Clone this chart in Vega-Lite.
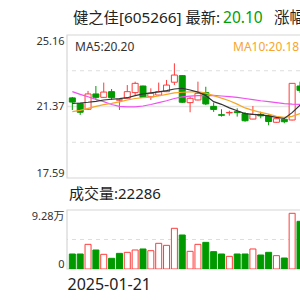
{
  "$schema": "https://vega.github.io/schema/vega-lite/v6.json",
  "width": 233,
  "height": 234,
  "autosize": "none",
  "padding": {"left": 67, "top": 35, "right": 0, "bottom": 31},
  "background": "white",
  "config": {"view": {"stroke": null}, "font": "Noto Sans, Noto Sans CJK SC", "scale": {"continuousPadding": 0}},
  "data": {"values": [
    {"i": 1, "o": 21.83, "h": 21.88, "l": 21.19, "c": 21.61, "v": 23600, "d": "down", "vd": "down", "ma5": 21.54, "ma10": 21.10, "ma20": 22.16},
    {"i": 2, "o": 21.54, "h": 21.56, "l": 20.93, "c": 21.07, "v": 23600, "d": "down", "vd": "down", "ma5": 21.56, "ma10": 21.17, "ma20": 22.02},
    {"i": 3, "o": 21.23, "h": 22.20, "l": 21.19, "c": 22.04, "v": 38800, "d": "up", "vd": "up", "ma5": 21.60, "ma10": 21.28, "ma20": 21.89},
    {"i": 4, "o": 22.04, "h": 22.46, "l": 21.72, "c": 21.86, "v": 29900, "d": "down", "vd": "down", "ma5": 21.65, "ma10": 21.38, "ma20": 21.75},
    {"i": 5, "o": 21.86, "h": 22.64, "l": 21.84, "c": 22.14, "v": 23100, "d": "up", "vd": "up", "ma5": 21.72, "ma10": 21.47, "ma20": 21.63},
    {"i": 6, "o": 22.16, "h": 22.30, "l": 21.72, "c": 21.84, "v": 16800, "d": "down", "vd": "down", "ma5": 21.76, "ma10": 21.54, "ma20": 21.48},
    {"i": 7, "o": 21.71, "h": 21.78, "l": 21.19, "c": 21.73, "v": 24600, "d": "up", "vd": "down", "ma5": 21.79, "ma10": 21.62, "ma20": 21.38},
    {"i": 8, "o": 21.81, "h": 22.51, "l": 21.80, "c": 22.16, "v": 26200, "d": "up", "vd": "up", "ma5": 21.84, "ma10": 21.72, "ma20": 21.36},
    {"i": 9, "o": 22.11, "h": 22.69, "l": 21.98, "c": 22.60, "v": 29900, "d": "up", "vd": "up", "ma5": 21.95, "ma10": 21.80, "ma20": 21.36},
    {"i": 10, "o": 22.46, "h": 22.48, "l": 21.84, "c": 21.86, "v": 31500, "d": "down", "vd": "down", "ma5": 22.04, "ma10": 21.84, "ma20": 21.40},
    {"i": 11, "o": 21.89, "h": 22.34, "l": 21.72, "c": 22.07, "v": 28800, "d": "up", "vd": "up", "ma5": 22.10, "ma10": 21.87, "ma20": 21.48},
    {"i": 12, "o": 21.98, "h": 22.64, "l": 21.96, "c": 22.16, "v": 40400, "d": "up", "vd": "up", "ma5": 22.15, "ma10": 21.93, "ma20": 21.58},
    {"i": 13, "o": 22.16, "h": 22.78, "l": 22.14, "c": 22.51, "v": 37200, "d": "up", "vd": "up", "ma5": 22.22, "ma10": 22.02, "ma20": 21.68},
    {"i": 14, "o": 22.66, "h": 23.66, "l": 22.51, "c": 23.04, "v": 64000, "d": "up", "vd": "up", "ma5": 22.30, "ma10": 22.10, "ma20": 21.80},
    {"i": 15, "o": 23.01, "h": 23.03, "l": 21.56, "c": 21.60, "v": 53500, "d": "down", "vd": "down", "ma5": 22.34, "ma10": 22.13, "ma20": 21.88},
    {"i": 16, "o": 21.58, "h": 21.89, "l": 21.07, "c": 21.81, "v": 27800, "d": "up", "vd": "up", "ma5": 22.25, "ma10": 22.15, "ma20": 21.92},
    {"i": 17, "o": 21.72, "h": 22.69, "l": 21.70, "c": 22.07, "v": 38800, "d": "up", "vd": "up", "ma5": 22.14, "ma10": 22.16, "ma20": 21.95},
    {"i": 18, "o": 22.11, "h": 22.42, "l": 21.45, "c": 21.51, "v": 41900, "d": "down", "vd": "down", "ma5": 21.95, "ma10": 22.08, "ma20": 21.95},
    {"i": 19, "o": 21.38, "h": 21.58, "l": 21.09, "c": 21.22, "v": 27300, "d": "down", "vd": "down", "ma5": 21.63, "ma10": 21.95, "ma20": 21.96},
    {"i": 20, "o": 20.94, "h": 21.23, "l": 20.84, "c": 20.91, "v": 23600, "d": "down", "vd": "down", "ma5": 21.49, "ma10": 21.82, "ma20": 21.93},
    {"i": 21, "o": 21.04, "h": 21.15, "l": 20.89, "c": 21.06, "v": 19900, "d": "up", "vd": "up", "ma5": 21.30, "ma10": 21.68, "ma20": 21.90},
    {"i": 22, "o": 21.10, "h": 21.28, "l": 20.84, "c": 21.05, "v": 23600, "d": "down", "vd": "down", "ma5": 21.15, "ma10": 21.50, "ma20": 21.86},
    {"i": 23, "o": 21.00, "h": 21.08, "l": 20.57, "c": 20.62, "v": 23600, "d": "down", "vd": "down", "ma5": 21.00, "ma10": 21.30, "ma20": 21.80},
    {"i": 24, "o": 20.71, "h": 21.40, "l": 20.70, "c": 20.96, "v": 31500, "d": "up", "vd": "up", "ma5": 20.96, "ma10": 21.17, "ma20": 21.74},
    {"i": 25, "o": 20.96, "h": 21.10, "l": 20.75, "c": 20.88, "v": 22000, "d": "down", "vd": "down", "ma5": 20.93, "ma10": 21.06, "ma20": 21.68},
    {"i": 26, "o": 20.87, "h": 20.96, "l": 20.38, "c": 20.58, "v": 26200, "d": "down", "vd": "down", "ma5": 20.88, "ma10": 20.97, "ma20": 21.63},
    {"i": 27, "o": 20.54, "h": 20.83, "l": 20.52, "c": 20.73, "v": 21000, "d": "up", "vd": "up", "ma5": 20.80, "ma10": 20.86, "ma20": 21.58},
    {"i": 28, "o": 20.70, "h": 20.78, "l": 20.49, "c": 20.57, "v": 17300, "d": "down", "vd": "down", "ma5": 20.74, "ma10": 20.80, "ma20": 21.53},
    {"i": 29, "o": 20.66, "h": 22.60, "l": 20.64, "c": 22.60, "v": 87600, "d": "up", "vd": "up", "ma5": 21.05, "ma10": 20.85, "ma20": 21.50},
    {"i": 30, "o": 22.46, "h": 22.69, "l": 22.10, "c": 22.23, "v": 75000, "d": "down", "vd": "down", "ma5": 21.45, "ma10": 21.00, "ma20": 21.49}
  ]},
  "resolve": {"scale": {"y": "independent"}, "axis": {"y": "independent"}},
  "layer": [
    {
      "layer": [
        {
          "data": {"values": [{}]},
          "mark": {"type": "rule", "color": "#dddddd", "strokeDash": [4, 4], "strokeWidth": 1},
          "encoding": {"y": {"datum": 23.2675, "type": "quantitative"}}
        },
        {
          "data": {"values": [{}]},
          "mark": {"type": "rule", "color": "#dddddd", "strokeDash": [4, 4], "strokeWidth": 1},
          "encoding": {"y": {"datum": 19.4825, "type": "quantitative"}}
        },
        {
          "data": {"values": [{}]},
          "mark": {"type": "rule", "color": "#e6e6e6", "strokeWidth": 1.5},
          "encoding": {"y": {"datum": 21.37, "type": "quantitative"}}
        },
        {
          "data": {"values": [{}]},
          "mark": {"type": "rect", "fill": null, "fillOpacity": 0, "stroke": "#d6d6d6", "strokeWidth": 1.2},
          "encoding": {
            "x": {"datum": 0.32, "type": "quantitative", "scale": {"domain": [0.32, 30.0], "nice": false, "zero": false, "padding": 0}},
            "x2": {"datum": 30.3},
            "y": {"datum": 17.59, "type": "quantitative"},
            "y2": {"datum": 25.16}
          }
        },
        {
          "mark": {"type": "rule", "strokeWidth": 1, "clip": true},
          "encoding": {
            "x": {"field": "i", "type": "quantitative",
                  "scale": {"domain": [0.32, 30.0], "nice": false, "zero": false, "padding": 0},
                  "axis": {"values": [0.32], "labelExpr": "'2025-01-21'", "labelFlush": true, "domain": false, "ticks": false, "grid": false, "labelFontSize": 16, "labelColor": "#222", "labelPadding": 7, "title": null, "orient": "bottom", "labelFont": "Noto Sans"}},
            "y": {"field": "l", "type": "quantitative",
                  "scale": {"domain": [17.59, 25.16], "range": [143, 0], "nice": false, "zero": false},
                  "axis": {"values": [17.59, 21.37, 25.16], "format": ".2f", "labelFlush": true, "domain": false, "ticks": false, "grid": false, "labelFontSize": 11, "labelColor": "#333", "labelPadding": 3, "title": null, "orient": "left", "labelFont": "Noto Sans"}},
            "y2": {"field": "h"},
            "stroke": {"field": "d", "type": "nominal", "scale": {"domain": ["up", "down"], "range": ["#ff3b3b", "#009a00"]}, "legend": null}
          }
        },
        {
          "mark": {"type": "bar", "width": 6, "strokeWidth": 1, "clip": true},
          "encoding": {
            "x": {"field": "i", "type": "quantitative", "scale": {"domain": [0.32, 30.0], "nice": false, "zero": false, "padding": 0}},
            "y": {"field": "o", "type": "quantitative"},
            "y2": {"field": "c"},
            "fill": {"field": "d", "type": "nominal", "scale": {"domain": ["up", "down"], "range": ["#ffffff", "#009a00"]}, "legend": null},
            "stroke": {"field": "d", "type": "nominal", "legend": null}
          }
        },
        {
          "mark": {"type": "line", "color": "#f050f0", "strokeWidth": 1.2, "clip": true},
          "encoding": {"x": {"field": "i", "type": "quantitative", "scale": {"domain": [0.32, 30.0], "nice": false, "zero": false, "padding": 0}}, "y": {"field": "ma20", "type": "quantitative"}}
        },
        {
          "mark": {"type": "line", "color": "#f5a623", "strokeWidth": 1.2, "clip": true},
          "encoding": {"x": {"field": "i", "type": "quantitative", "scale": {"domain": [0.32, 30.0], "nice": false, "zero": false, "padding": 0}}, "y": {"field": "ma10", "type": "quantitative"}}
        },
        {
          "mark": {"type": "line", "color": "#333333", "strokeWidth": 1.2, "clip": true},
          "encoding": {"x": {"field": "i", "type": "quantitative", "scale": {"domain": [0.32, 30.0], "nice": false, "zero": false, "padding": 0}}, "y": {"field": "ma5", "type": "quantitative"}}
        },
        {
          "data": {"values": [{}]},
          "mark": {"type": "text", "align": "left", "baseline": "middle", "fontSize": 15.3, "color": "#222", "font": "Noto Sans, Noto Sans CJK SC"},
          "encoding": {"x": {"datum": 1.084, "type": "quantitative"}, "y": {"datum": 26.06, "type": "quantitative"}, "text": {"value": "健之佳[605266] 最新:"}}
        },
        {
          "data": {"values": [{}]},
          "mark": {"type": "text", "align": "left", "baseline": "middle", "fontSize": 15.5, "color": "#00a000", "font": "Noto Sans, Noto Sans CJK SC"},
          "encoding": {"x": {"datum": 20.2, "type": "quantitative"}, "y": {"datum": 26.06, "type": "quantitative"}, "text": {"value": "20.10"}}
        },
        {
          "data": {"values": [{}]},
          "mark": {"type": "text", "align": "left", "baseline": "middle", "fontSize": 15.5, "color": "#222", "font": "Noto Sans, Noto Sans CJK SC"},
          "encoding": {"x": {"datum": 26.69, "type": "quantitative"}, "y": {"datum": 26.06, "type": "quantitative"}, "text": {"value": "涨幅"}}
        },
        {
          "data": {"values": [{}]},
          "mark": {"type": "text", "align": "left", "baseline": "middle", "fontSize": 12, "color": "#333", "font": "Noto Sans"},
          "encoding": {"x": {"datum": 1.34, "type": "quantitative"}, "y": {"datum": 24.525, "type": "quantitative"}, "text": {"value": "MA5:20.20"}}
        },
        {
          "data": {"values": [{}]},
          "mark": {"type": "text", "align": "left", "baseline": "middle", "fontSize": 12, "color": "#f8a52c", "font": "Noto Sans"},
          "encoding": {"x": {"datum": 21.47, "type": "quantitative"}, "y": {"datum": 24.525, "type": "quantitative"}, "text": {"value": "MA10:20.18"}}
        },
        {
          "data": {"values": [{}]},
          "mark": {"type": "text", "align": "left", "baseline": "middle", "fontSize": 15, "color": "#222", "font": "Noto Sans, Noto Sans CJK SC"},
          "encoding": {"x": {"datum": 0.575, "type": "quantitative"}, "y": {"datum": 16.74, "type": "quantitative"}, "text": {"value": "成交量:22286"}}
        }
      ]
    },
    {
      "layer": [
        {
          "data": {"values": [{}]},
          "mark": {"type": "rule", "color": "#dddddd", "strokeDash": [4, 4], "strokeWidth": 1},
          "encoding": {"y": {"datum": 46400, "type": "quantitative"}}
        },
        {
          "data": {"values": [{}]},
          "mark": {"type": "rect", "fill": null, "fillOpacity": 0, "stroke": "#d6d6d6", "strokeWidth": 1.2},
          "encoding": {
            "x": {"datum": 0.32, "type": "quantitative", "scale": {"domain": [0.32, 30.0], "nice": false, "zero": false, "padding": 0}},
            "x2": {"datum": 30.3},
            "y": {"datum": 0, "type": "quantitative"},
            "y2": {"datum": 92800}
          }
        },
        {
          "mark": {"type": "bar", "width": 6, "strokeWidth": 1, "clip": true},
          "encoding": {
            "x": {"field": "i", "type": "quantitative", "scale": {"domain": [0.32, 30.0], "nice": false, "zero": false, "padding": 0}},
            "y": {"field": "v", "type": "quantitative",
                  "scale": {"domain": [0, 92800], "range": [234, 175], "nice": false, "zero": false},
                  "axis": {"values": [0, 92800], "labelExpr": "datum.value == 0 ? '0' : '9.28万'", "labelFlush": true, "domain": false, "ticks": false, "grid": false, "labelFontSize": 11, "labelColor": "#333", "labelPadding": 3, "title": null, "orient": "left", "labelFont": "Noto Sans, Noto Sans CJK SC"}},
            "fill": {"field": "vd", "type": "nominal", "legend": null},
            "stroke": {"field": "vd", "type": "nominal", "scale": {"domain": ["up", "down"], "range": ["#ff3b3b", "#009a00"]}, "legend": null}
          }
        }
      ]
    }
  ]
}
